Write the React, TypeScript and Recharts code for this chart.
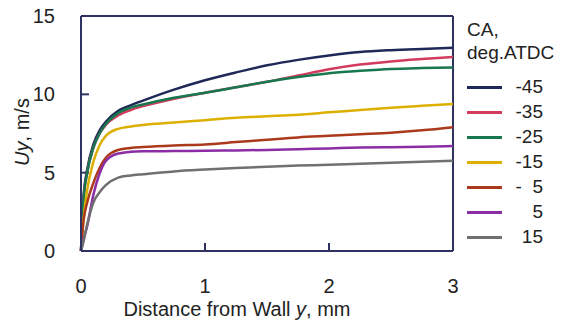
import { LineChart, Line, XAxis, YAxis, ReferenceLine, Legend, Label } from 'recharts'

const distance = [0, 0.02, 0.05, 0.1, 0.15, 0.2, 0.3, 0.4, 0.5, 0.75, 1.0, 1.25, 1.5, 1.75, 2.0, 2.25, 2.5, 2.75, 3.0]

const caM45 = [0, 3.4, 5.2, 6.8, 7.7, 8.25, 8.95, 9.3, 9.6, 10.3, 10.9, 11.4, 11.85, 12.2, 12.48, 12.7, 12.82, 12.9, 12.97]
const caM35 = [0, 3.2, 5.0, 6.6, 7.5, 8.05, 8.65, 9.0, 9.25, 9.72, 10.1, 10.45, 10.8, 11.2, 11.6, 11.9, 12.1, 12.25, 12.38]
const caM25 = [0, 3.2, 5.0, 6.6, 7.5, 8.1, 8.8, 9.15, 9.35, 9.78, 10.1, 10.45, 10.8, 11.1, 11.35, 11.5, 11.62, 11.68, 11.72]
const caM15 = [0, 2.0, 3.9, 5.7, 6.75, 7.35, 7.8, 7.95, 8.05, 8.2, 8.35, 8.5, 8.6, 8.7, 8.85, 9.0, 9.15, 9.27, 9.38]
const caM5 = [0, 1.9, 3.1, 4.35, 5.3, 5.95, 6.45, 6.58, 6.64, 6.74, 6.8, 6.95, 7.1, 7.25, 7.35, 7.45, 7.55, 7.7, 7.9]
const caP5 = [0, 0.7, 1.6, 3.6, 4.95, 5.75, 6.22, 6.33, 6.36, 6.38, 6.4, 6.42, 6.45, 6.5, 6.55, 6.6, 6.62, 6.65, 6.7]
const caP15 = [0, 0.6, 1.7, 3.1, 3.75, 4.2, 4.68, 4.82, 4.9, 5.08, 5.2, 5.3, 5.38, 5.45, 5.5, 5.57, 5.63, 5.7, 5.76]

const xTicks = [0, 1, 2, 3]
const yTicks = [0, 5, 10, 15]

const series = [
  { key: 'm45', label: '-45', values: caM45, color: '#1f2858' },
  { key: 'm35', label: '-35', values: caM35, color: '#d23a5e' },
  { key: 'm25', label: '-25', values: caM25, color: '#17784f' },
  { key: 'm15', label: '-15', values: caM15, color: '#dcb000' },
  { key: 'm5', label: '-  5', values: caM5, color: '#ab3a1c' },
  { key: 'p5', label: '5', values: caP5, color: '#8b2ea6' },
  { key: 'p15', label: '15', values: caP15, color: '#707070' },
]

const rows = distance.map((d, i) => {
  const row: Record<string, number> = { d }
  series.forEach((s) => { row[s.key] = s.values[i] })
  return row
})

const axisColor = '#2e3260'
const font = '"Liberation Sans", Arial, sans-serif'

// inward tick marks, ~8px long (plot is 372px for 3 mm, 235px for 15 m/s)
const xTickLen = 8 * 15 / 235
const yTickLen = 8 * 3 / 372

const legendBox = () => (
  <div style={{ position: 'relative', width: 561, height: 322, fontFamily: font, color: '#222' }}>
    <div style={{ position: 'absolute', left: 467, top: 19, fontSize: 19, lineHeight: '22px' }}>CA,</div>
    <div style={{ position: 'absolute', left: 467, top: 42, fontSize: 19, lineHeight: '22px' }}>deg.ATDC</div>
    {series.map((s, i) => (
      <div key={s.key}>
        <div style={{ position: 'absolute', left: 467, top: 86 + i * 25, width: 35, height: 3, background: s.color }} />
        <div style={{ position: 'absolute', left: 505, width: 38, top: 76 + i * 25, fontSize: 19, lineHeight: '22px', textAlign: 'right', whiteSpace: 'pre' }}>
          {s.label}
        </div>
      </div>
    ))}
  </div>
)

export default function App() {
  return (
    <div style={{ position: 'fixed', left: 0, top: 0, background: '#fff' }}>
      <LineChart width={561} height={322} data={rows} margin={{ top: 16, right: 108, left: 21, bottom: 31 }}>
        <XAxis
          dataKey="d"
          type="number"
          domain={[0, 3]}
          ticks={xTicks}
          stroke={axisColor}
          strokeWidth={2}
          tickLine={false}
          tickMargin={22}
          height={40}
          tick={{ fontSize: 20, fill: '#222', fontFamily: font }}
        >
          <Label
            content={() => (
              <text x={237} y={316} textAnchor="middle" fontSize={20} fill="#222" fontFamily={font}>
                Distance from Wall <tspan fontStyle="italic">y</tspan>, mm
              </text>
            )}
          />
        </XAxis>
        <YAxis
          type="number"
          domain={[0, 15]}
          ticks={yTicks}
          stroke={axisColor}
          strokeWidth={2}
          tickLine={false}
          tickMargin={20}
          width={60}
          tick={{ fontSize: 20, fill: '#222', fontFamily: font }}
        >
          <Label
            content={() => (
              <text x={29} y={132} transform="rotate(-90 29 132)" textAnchor="middle" fontSize={20} fill="#222" fontFamily={font}>
                <tspan fontStyle="italic">Uy</tspan>, m/s
              </text>
            )}
          />
        </YAxis>
        <ReferenceLine y={15} stroke={axisColor} strokeWidth={2} />
        <ReferenceLine x={3} stroke={axisColor} strokeWidth={2} />
        {xTicks.slice(1, -1).map((t) => (
          <ReferenceLine key={`xt${t}`} segment={[{ x: t, y: 0 }, { x: t, y: xTickLen }]} stroke={axisColor} strokeWidth={2} ifOverflow="visible" />
        ))}
        {yTicks.slice(1, -1).map((t) => (
          <ReferenceLine key={`yt${t}`} segment={[{ x: 0, y: t }, { x: yTickLen, y: t }]} stroke={axisColor} strokeWidth={2} ifOverflow="visible" />
        ))}
        {series.map((s) => (
          <Line
            key={s.key}
            dataKey={s.key}
            name={s.label}
            type="monotone"
            stroke={s.color}
            strokeWidth={2.5}
            dot={false}
            isAnimationActive={false}
          />
        ))}
        <Legend
          content={legendBox}
          layout="vertical"
          align="center"
          verticalAlign="middle"
          wrapperStyle={{ position: 'absolute', left: 0, top: 0, width: 561, height: 322 }}
        />
      </LineChart>
    </div>
  )
}
